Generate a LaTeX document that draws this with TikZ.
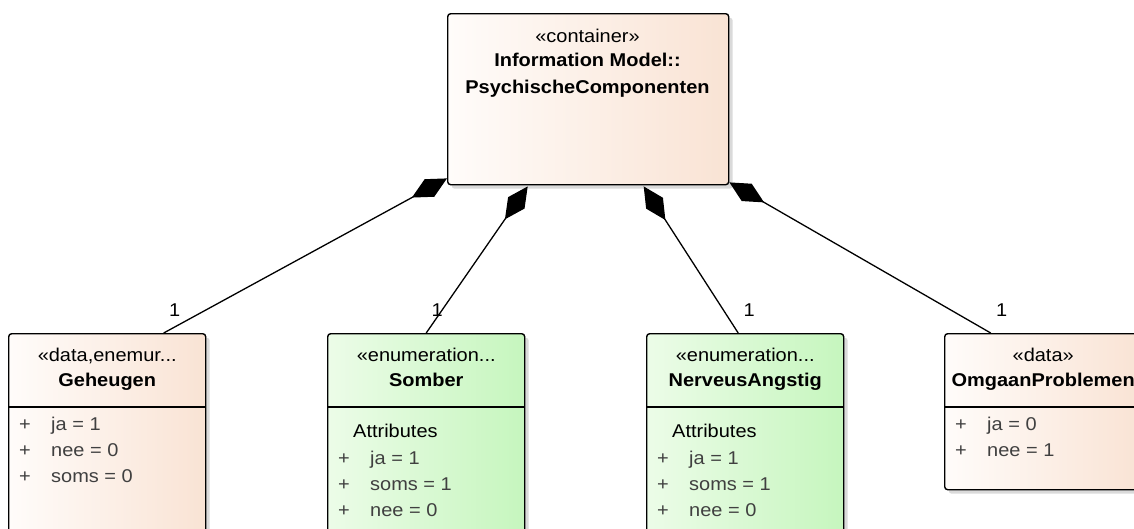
\documentclass[tikz,border=0pt]{standalone}
\usepackage{fontspec}
\setmainfont[FakeStretch=1.08]{Liberation Sans}
\usepackage{xcolor}
\usetikzlibrary{arrows.meta,shadows,positioning,calc}
\definecolor{dataleft}{RGB}{255,252,250}
\definecolor{dataright}{RGB}{249,227,212}
\definecolor{enumleft}{RGB}{236,252,232}
\definecolor{enumright}{RGB}{198,246,190}
\definecolor{attrtext}{RGB}{64,64,64}
\definecolor{boxshadow}{RGB}{218,218,218}
\newcommand{\classbox}[6]{
  % name, left x, fill style, height, stereotype, title
  \draw (#2,333) node[umlbox,#3,minimum width=197pt,minimum height=#4pt] (#1) {};
  \draw[line width=1.4pt] ([yshift=-74pt]#1.north west) -- ([yshift=-74pt]#1.north east);
  \draw ([yshift=-24pt]#1.north) node[stereo] (#1-stereo) {#5};
  \draw ([yshift=-49pt]#1.north) node[classname] (#1-name) {#6};
}
\newcommand{\enumattr}[3]{
  % box, offset from top, text
  \draw ($(#1.north west)+(11,#2)$) node[attr] (#1-plus-#2) {+};
  \draw ($(#1.north west)+(43,#2)$) node[attr] (#1-attr-#2) {#3};
}
\tikzstyle{umlbox}=[draw=black,line width=1.4pt,rounded corners=3pt,anchor=north west,inner sep=0pt,
  drop shadow={shadow xshift=4pt,shadow yshift=-4pt,fill=boxshadow,opacity=1}]
\tikzstyle{databox}=[left color=dataleft,right color=dataright]
\tikzstyle{enumbox}=[left color=enumleft,right color=enumright]
\tikzset{txt/.style={inner sep=0pt,text height=13.5pt,text depth=4pt,font=\fontsize{18.5}{22}\selectfont}}
\tikzset{stereo/.style={txt}}
\tikzset{classname/.style={txt,font=\fontsize{18.5}{22}\selectfont\bfseries}}
\tikzset{attr/.style={txt,anchor=west,text=attrtext}}
\tikzset{composition/.style={{Diamond[length=40pt,width=20pt]}-,line width=1.3pt}}
\tikzset{mult/.style={txt,at end,xshift=11pt,yshift=21pt}}
\tikzset{y=-1pt}
\tikzset{x=1pt}

\begin{document}
\begin{tikzpicture}
  \useasboundingbox (0,0) rectangle (1134,528);
  %% Container
  \draw (447,13) node[umlbox,databox,minimum width=281pt,minimum height=171pt] (PC) {};
  \draw (587.5,38) node[stereo] (PC-stereo) {«container»};
  \draw (587.5,62) node[classname] (PC-name) {Information Model::};
  \draw (587.5,89) node[classname] (PC-name2) {PsychischeComponenten};

  %% Classes
  \classbox{Geheugen}{8}{databox}{210}{«data,enemur...}{Geheugen}
  \classbox{Somber}{327}{enumbox}{210}{«enumeration...}{Somber}
  \classbox{Nerveus}{646}{enumbox}{210}{«enumeration...}{NerveusAngstig}
  \classbox{Omgaan}{944}{databox}{156}{«data»}{OmgaanProblemen}

  \enumattr{Geheugen}{93}{ja = 1}
  \enumattr{Geheugen}{119}{nee = 0}
  \enumattr{Geheugen}{145}{soms = 0}

  \draw ($(Somber.north west)+(26,100)$) node[txt,anchor=west] (Somber-title) {Attributes};
  \enumattr{Somber}{127}{ja = 1}
  \enumattr{Somber}{153}{soms = 1}
  \enumattr{Somber}{179}{nee = 0}

  \draw ($(Nerveus.north west)+(26,100)$) node[txt,anchor=west] (Nerveus-title) {Attributes};
  \enumattr{Nerveus}{127}{ja = 1}
  \enumattr{Nerveus}{153}{soms = 1}
  \enumattr{Nerveus}{179}{nee = 0}

  \enumattr{Omgaan}{93}{ja = 0}
  \enumattr{Omgaan}{119}{nee = 1}

  %% Compositions
  \draw[composition] ([yshift=7pt]PC.south west) -- ([xshift=56.5pt]Geheugen.north) node[mult] (m1) {1};
  \draw[composition] ([xshift=-60.5pt,yshift=-1pt]PC.south) -- (Somber.north) node[mult] (m2) {1};
  \draw[composition] ([xshift=55.5pt,yshift=-1pt]PC.south) -- ([xshift=-7pt]Nerveus.north) node[mult] (m3) {1};
  \draw[composition] ([yshift=3pt]PC.south east) -- ([xshift=-52.5pt]Omgaan.north) node[mult] (m4) {1};
\end{tikzpicture}
\end{document}
